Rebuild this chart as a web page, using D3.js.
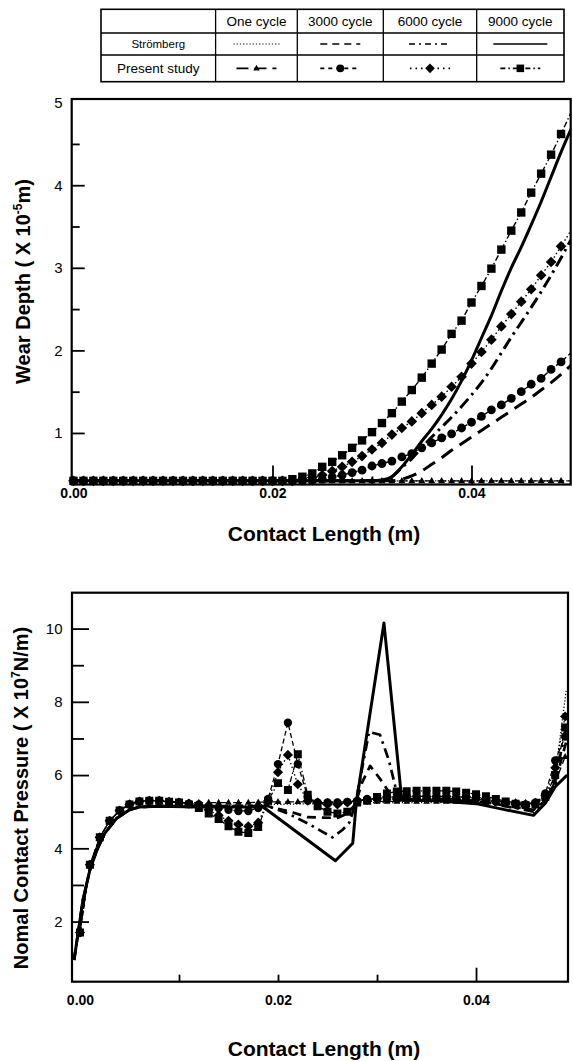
<!DOCTYPE html>
<html><head><meta charset="utf-8">
<script src="https://cdn.jsdelivr.net/npm/d3@7"></script>
<style>body{margin:0;background:#fff}svg{display:block}</style>
</head><body>
<svg id="c" width="573" height="1061"></svg>
<script>
// ---------------- DATA ----------------
const cycles = ["One cycle", "3000 cycle", "6000 cycle", "9000 cycle"];
const rowLabels = ["Strömberg", "Present study"];

// sample positions along the contact (m)
const sampleX = [0.000,0.001,0.002,0.003,0.004,0.005,0.006,0.007,0.008,0.009,
  0.010,0.011,0.012,0.013,0.014,0.015,0.016,0.017,0.018,0.019,
  0.020,0.021,0.022,0.023,0.024,0.025,0.026,0.027,0.028,0.029,
  0.030,0.031,0.032,0.033,0.034,0.035,0.036,0.037,0.038,0.039,
  0.040,0.041,0.042,0.043,0.044,0.045,0.046,0.047,0.048,0.049,0.050];

// Wear depth (x 1e-5 m) — top chart
const wearTickLabels = [1, 2, 3, 4, 5];
const wearMajorTicks = [1, 2, 3, 4];
const wearMinorTicks = [1.5, 2.5, 3.5, 4.5];
const lenLabelTicks = [0.00, 0.02, 0.04];
const lenMajorTicks = [0.02, 0.04];
const lenMinorTicks = [0.01, 0.03];

const wearOneP = [0.42,0.42,0.42,0.42,0.42,0.42,0.42,0.42,0.42,0.42,
  0.42,0.42,0.42,0.42,0.42,0.42,0.42,0.42,0.42,0.42,
  0.42,0.42,0.42,0.42,0.42,0.42,0.42,0.42,0.42,0.42,
  0.42,0.42,0.42,0.42,0.42,0.42,0.42,0.42,0.42,0.42,
  0.42,0.42,0.42,0.42,0.42,0.42,0.42,0.42,0.42,0.42,0.42];
const wear3000P = [0.42,0.42,0.42,0.42,0.42,0.42,0.42,0.42,0.42,0.42,
  0.42,0.42,0.42,0.42,0.42,0.42,0.42,0.42,0.42,0.42,
  0.42,0.42,0.42,0.42,0.42,0.44,0.47,0.49,0.52,0.55,
  0.60,0.63,0.66,0.71,0.75,0.82,0.88,0.94,0.99,1.06,
  1.13,1.20,1.28,1.34,1.42,1.50,1.59,1.66,1.77,1.86,1.97];
const wear6000P = [0.42,0.42,0.42,0.42,0.42,0.42,0.42,0.42,0.42,0.42,
  0.42,0.42,0.42,0.42,0.42,0.42,0.42,0.42,0.42,0.42,
  0.42,0.42,0.42,0.44,0.46,0.49,0.54,0.59,0.65,0.72,
  0.80,0.88,0.98,1.06,1.14,1.24,1.34,1.44,1.56,1.68,
  1.84,1.98,2.13,2.29,2.44,2.59,2.74,2.91,3.07,3.26,3.45];
const wear9000P = [0.42,0.42,0.42,0.42,0.42,0.42,0.42,0.42,0.42,0.42,
  0.42,0.42,0.42,0.42,0.42,0.42,0.42,0.42,0.42,0.42,
  0.42,0.42,0.44,0.47,0.51,0.59,0.65,0.73,0.82,0.91,
  1.01,1.12,1.24,1.38,1.52,1.67,1.84,2.01,2.20,2.36,
  2.58,2.78,2.99,3.22,3.45,3.67,3.91,4.14,4.37,4.62,4.88];

const wearOneS = [0.42,0.42,0.42,0.42,0.42,0.42,0.42,0.42,0.42,0.42,
  0.42,0.42,0.42,0.42,0.42,0.42,0.42,0.42,0.42,0.42,
  0.42,0.42,0.42,0.42,0.42,0.42,0.42,0.42,0.42,0.42,
  0.42,0.42,0.42,0.42,0.42,0.42,0.42,0.42,0.42,0.42,
  0.42,0.42,0.42,0.42,0.42,0.42,0.42,0.42,0.42,0.42,0.42];
const wear3000S = [0.42,0.42,0.42,0.42,0.42,0.42,0.42,0.42,0.42,0.42,
  0.42,0.42,0.42,0.42,0.42,0.42,0.42,0.42,0.42,0.42,
  0.42,0.42,0.42,0.42,0.42,0.42,0.42,0.42,0.42,0.42,
  0.42,0.42,0.42,0.44,0.48,0.54,0.62,0.70,0.79,0.87,
  0.95,1.03,1.11,1.19,1.27,1.35,1.43,1.52,1.61,1.71,1.82];
const wear6000S = [0.42,0.42,0.42,0.42,0.42,0.42,0.42,0.42,0.42,0.42,
  0.42,0.42,0.42,0.42,0.42,0.42,0.42,0.42,0.42,0.42,
  0.42,0.42,0.42,0.42,0.42,0.42,0.42,0.42,0.42,0.42,
  0.42,0.42,0.47,0.58,0.69,0.82,0.95,1.07,1.19,1.32,
  1.46,1.61,1.78,1.97,2.16,2.34,2.52,2.71,2.91,3.12,3.34];
const wear9000S = [0.42,0.42,0.42,0.42,0.42,0.42,0.42,0.42,0.42,0.42,
  0.42,0.42,0.42,0.42,0.42,0.42,0.42,0.42,0.42,0.42,
  0.42,0.42,0.42,0.42,0.42,0.42,0.42,0.42,0.42,0.42,
  0.42,0.43,0.47,0.59,0.74,0.90,1.05,1.22,1.41,1.63,
  1.88,2.15,2.42,2.72,3.00,3.25,3.52,3.80,4.10,4.40,4.68];

// Normal contact pressure (x 1e7 N/m) — bottom chart, present study (k = 0..49)
const pressTickLabels = [2, 4, 6, 8, 10];
const pressMinorTicks = [3, 5, 7, 9];
const pressLenMajor = [0.04];
const pressLenMinor = [0.01, 0.02, 0.03];

const pressOneP = [1.7,3.55,4.3,4.75,5.03,5.2,5.28,5.3,5.3,5.27,
  5.25,5.25,5.25,5.25,5.25,5.25,5.25,5.25,5.26,5.27,
  5.27,5.27,5.27,5.27,5.27,5.27,5.27,5.27,5.28,5.28,
  5.28,5.28,5.28,5.28,5.28,5.28,5.28,5.28,5.28,5.28,
  5.28,5.28,5.28,5.27,5.27,5.25,5.28,5.4,5.8,6.5];
const press3000P = [1.7,3.55,4.3,4.75,5.03,5.2,5.28,5.3,5.3,5.27,
  5.25,5.22,5.2,5.15,5.1,5.05,5.02,5.02,5.1,5.35,
  6.3,7.43,6.3,5.4,5.25,5.25,5.25,5.27,5.3,5.35,
  5.35,5.35,5.35,5.36,5.36,5.36,5.36,5.36,5.35,5.35,
  5.35,5.3,5.28,5.25,5.22,5.2,5.25,5.5,6.4,7.05];
const press6000P = [1.7,3.55,4.3,4.75,5.03,5.2,5.28,5.3,5.3,5.27,
  5.25,5.22,5.15,5.05,4.9,4.75,4.65,4.6,4.7,5.3,
  6.08,6.55,5.75,5.3,5.25,5.2,5.2,5.25,5.3,5.32,
  5.35,5.4,5.4,5.42,5.42,5.42,5.42,5.42,5.4,5.4,
  5.38,5.35,5.3,5.25,5.2,5.15,5.2,5.45,6.2,7.6];
const press9000P = [1.7,3.55,4.3,4.75,5.03,5.2,5.28,5.3,5.3,5.27,
  5.25,5.2,5.1,4.95,4.8,4.6,4.45,4.42,4.58,5.3,
  5.78,5.59,6.57,5.46,5.15,5.0,4.95,5.0,5.25,5.3,
  5.4,5.5,5.55,5.56,5.57,5.57,5.57,5.57,5.55,5.52,
  5.48,5.42,5.35,5.28,5.22,5.18,5.2,5.4,6.0,7.3];

// Strömberg curves (x in m, pressure)
const pressOneSX = [-0.0006,-0.0001,0.0003,0.001,0.0017,0.0025,0.0037,0.005,0.006,0.008,0.012,0.020,0.030,0.040,0.045,0.047,0.048,0.0491];
const pressOneSY = [0.95,1.86,2.59,3.41,3.95,4.41,4.82,5.05,5.13,5.15,5.15,5.2,5.25,5.25,5.2,5.4,6.0,8.3];
const press3000SX = [-0.0006,-0.0001,0.0003,0.001,0.0017,0.0025,0.0037,0.005,0.006,0.008,0.012,0.019,0.0215,0.023,0.026,0.027,0.0278,0.0285,0.0293,0.0303,0.0318,0.036,0.040,0.044,0.0458,0.047,0.048,0.0492];
const press3000SY = [0.95,1.86,2.59,3.41,3.95,4.41,4.82,5.05,5.13,5.15,5.15,5.15,4.98,4.85,4.83,4.95,5.2,5.8,6.25,5.9,5.3,5.35,5.3,5.12,5.05,5.3,5.8,7.0];
const press6000SX = [-0.0006,-0.0001,0.0003,0.001,0.0017,0.0025,0.0037,0.005,0.006,0.008,0.012,0.019,0.021,0.023,0.0245,0.0255,0.0265,0.0272,0.0278,0.0292,0.0303,0.0312,0.0322,0.036,0.040,0.044,0.0458,0.047,0.048,0.0492];
const press6000SY = [0.95,1.86,2.59,3.41,3.95,4.41,4.82,5.05,5.13,5.15,5.15,5.15,4.95,4.68,4.45,4.3,4.5,4.7,5.2,7.18,7.1,6.4,5.3,5.32,5.28,5.1,5.0,5.3,5.9,7.4];
const press9000SX = [-0.0006,-0.0001,0.0003,0.001,0.0017,0.0025,0.0037,0.005,0.006,0.008,0.012,0.0185,0.0258,0.02755,0.0279,0.0307,0.0325,0.036,0.040,0.043,0.0458,0.047,0.048,0.0492];
const press9000SY = [0.95,1.86,2.59,3.41,3.95,4.41,4.82,5.05,5.13,5.15,5.13,5.13,3.66,4.14,5.23,10.15,5.32,5.3,5.22,5.05,4.9,5.23,5.68,6.0];

// ---------------- DRAWING ----------------
const FONT = "'Liberation Sans', Arial, Helvetica, sans-serif";
const svg = d3.select("#c");

function markerPath(type, s) {
  if (type === "square") return `M${-s},${-s}h${2*s}v${2*s}h${-2*s}Z`;
  if (type === "diamond") { const d = s*1.3; return `M0,${-d}L${d},0L0,${d}L${-d},0Z`; }
  if (type === "circle") return `M${s},0A${s},${s} 0 1,1 ${-s},0A${s},${s} 0 1,1 ${s},0Z`;
  if (type === "tri") { const w = s*1.9, h = s*1.7; return `M0,${-h*0.62}L${w/2},${h*0.38}L${-w/2},${h*0.38}Z`; }
}

const presentStyle = [
  {type: "tri", dash: "9,4", s: 3.7},
  {type: "circle", dash: "5,3", s: 4.4},
  {type: "diamond", dash: "1.5,2.5", s: 4.1},
  {type: "square", dash: "6,2.5,1.5,2.5", s: 4.2}
];
const stromStyle = [
  {dash: "1.2,2", w: 1.3},
  {dash: "14,8", w: 3},
  {dash: "12,5,2.5,5", w: 3},
  {dash: null, w: 3}
];

// ----- Legend table -----
(function legend() {
  const L = 101, R = 564, T = 9.3, B = 81.7;
  const rowsY = [T, 33, 55, B];
  const colsX = [L, 215.6, 297.3, 383.3, 476.7, R];
  const g = svg.append("g").attr("font-family", FONT).attr("fill", "#000");
  g.append("rect").attr("x", L).attr("y", T).attr("width", R - L).attr("height", B - T)
    .attr("fill", "none").attr("stroke", "#000").attr("stroke-width", 1.6);
  rowsY.slice(1, 3).forEach(yy => g.append("line").attr("x1", L).attr("x2", R).attr("y1", yy).attr("y2", yy)
    .attr("stroke", "#000").attr("stroke-width", 1.3));
  colsX.slice(1, 5).forEach(xx => g.append("line").attr("x1", xx).attr("x2", xx).attr("y1", T).attr("y2", B)
    .attr("stroke", "#000").attr("stroke-width", 1.3));
  const cx = i => (colsX[i] + colsX[i + 1]) / 2;
  const cy = i => (rowsY[i] + rowsY[i + 1]) / 2;
  cycles.forEach((c, i) => g.append("text").attr("x", cx(i + 1)).attr("y", cy(0) + 5)
    .attr("text-anchor", "middle").attr("font-size", 13.5).text(c));
  g.append("text").attr("x", cx(0)).attr("y", cy(1) + 4).attr("text-anchor", "middle")
    .attr("font-size", 11.5).text(rowLabels[0]);
  g.append("text").attr("x", cx(0)).attr("y", cy(2) + 5).attr("text-anchor", "middle")
    .attr("font-size", 13.5).text(rowLabels[1]);
  const halfW = [23, 20, 21, 27];
  stromStyle.forEach((st, i) => {
    const x0 = cx(i + 1);
    g.append("line").attr("x1", x0 - halfW[i]).attr("x2", x0 + halfW[i]).attr("y1", cy(1)).attr("y2", cy(1))
      .attr("stroke", "#000").attr("stroke-width", i === 0 ? 1.1 : 1.6)
      .attr("stroke-dasharray", i === 1 ? "7,5" : (i === 2 ? "6,4,2,4" : st.dash));
  });
  presentStyle.forEach((st, i) => {
    const x0 = cx(i + 1);
    g.append("line").attr("x1", x0 - 20).attr("x2", x0 + 20).attr("y1", cy(2)).attr("y2", cy(2))
      .attr("stroke", "#000").attr("stroke-width", 1.6)
      .attr("stroke-dasharray", i === 0 ? "12,6" : (i === 1 ? "4,4" : (i === 2 ? "1.5,4" : "5,3,1.5,3")));
    g.append("path").attr("transform", `translate(${x0},${cy(2)})`).attr("d", markerPath(st.type, st.s * 0.9));
  });
})();

// ----- Generic plot -----
function plot(cfg) {
  const {box, id} = cfg;
  const g = svg.append("g");
  g.append("clipPath").attr("id", id).append("rect")
    .attr("x", box.L).attr("y", box.T).attr("width", box.R - box.L).attr("height", box.B - box.T);
  const inner = g.append("g").attr("clip-path", `url(#${id})`);
  return {g, inner};
}

function styleAxis(sel, size, weight) {
  sel.attr("font-family", FONT).attr("font-size", size).attr("font-weight", weight);
  sel.selectAll(".domain").remove();
  sel.selectAll("line").attr("stroke", "#000").attr("stroke-width", 1.8);
  sel.selectAll("text").attr("fill", "#000");
}

// ===== TOP CHART =====
(function topChart() {
  const box = {L: 71.7, R: 570.7, T: 99, B: 484.5};
  const x = d3.scaleLinear().domain([-0.00018, 0.04997]).range([box.L, box.R]);
  const y = d3.scaleLinear().domain([0.376, 5.044]).range([box.B, box.T]);
  const {g, inner} = plot({box, id: "clipTop"});

  const stromSeries = [wearOneS, wear3000S, wear6000S, wear9000S];
  const presSeries = [wearOneP, wear3000P, wear6000P, wear9000P];
  const lineS = d3.line().x((d, i) => x(sampleX[i])).y(d => y(d)).curve(d3.curveMonotoneX);
  const lineP = d3.line().x((d, i) => x(sampleX[i])).y(d => y(d));

  stromSeries.forEach((s, i) => inner.append("path").attr("d", lineS(s)).attr("fill", "none")
    .attr("stroke", "#000").attr("stroke-width", stromStyle[i].w)
    .attr("stroke-dasharray", stromStyle[i].dash));
  presSeries.forEach((s, i) => inner.append("path").attr("d", lineP(s)).attr("fill", "none")
    .attr("stroke", "#000").attr("stroke-width", 1.4).attr("stroke-dasharray", presentStyle[i].dash));
  presSeries.forEach((s, i) => {
    const pts = s.map((v, k) => ({x: sampleX[k], v})).filter(p => p.x <= x.domain()[1]);
    g.append("g").selectAll("path").data(pts).join("path")
      .attr("transform", p => `translate(${x(p.x)},${y(p.v)})`)
      .attr("d", markerPath(presentStyle[i].type, presentStyle[i].s));
  });

  // axes
  g.append("g").attr("transform", `translate(${box.L},0)`)
    .call(d3.axisLeft(y).tickValues(wearMajorTicks).tickSizeInner(-13).tickSizeOuter(0).tickFormat(""))
    .call(s => styleAxis(s, 15, "normal"));
  g.append("g").attr("transform", `translate(${box.L},0)`)
    .call(d3.axisLeft(y).tickValues(wearMinorTicks).tickSizeInner(-8).tickSizeOuter(0).tickFormat(""))
    .call(s => styleAxis(s, 15, "normal"));
  g.append("g").attr("transform", `translate(${box.L},0)`)
    .call(d3.axisLeft(y).tickValues(wearTickLabels).tickSize(0).tickPadding(9).tickFormat(d3.format("d")))
    .call(s => styleAxis(s, 15, "normal"));
  g.append("g").attr("transform", `translate(0,${box.B})`)
    .call(d3.axisBottom(x).tickValues(lenMajorTicks).tickSizeInner(-19).tickSizeOuter(0).tickFormat(""))
    .call(s => styleAxis(s, 14, "bold"));
  g.append("g").attr("transform", `translate(0,${box.B})`)
    .call(d3.axisBottom(x).tickValues(lenMinorTicks).tickSizeInner(-8).tickSizeOuter(0).tickFormat(""))
    .call(s => styleAxis(s, 14, "bold"));
  g.append("g").attr("transform", `translate(0,${box.B})`)
    .call(d3.axisBottom(x).tickValues(lenLabelTicks).tickSize(0).tickPadding(4).tickFormat(d3.format(".2f")))
    .call(s => styleAxis(s, 14, "bold"));

  g.append("rect").attr("x", box.L).attr("y", box.T).attr("width", box.R - box.L).attr("height", box.B - box.T)
    .attr("fill", "none").attr("stroke", "#000").attr("stroke-width", 2.2);

  g.append("text").attr("x", 324).attr("y", 541).attr("text-anchor", "middle")
    .attr("font-family", FONT).attr("font-size", 21).attr("font-weight", "bold").text("Contact Length (m)");
  const t = g.append("text").attr("transform", "translate(30,281.5) rotate(-90)").attr("text-anchor", "middle")
    .attr("font-family", FONT).attr("font-size", 20).attr("font-weight", "bold");
  t.append("tspan").text("Wear Depth ( X 10");
  t.append("tspan").attr("font-size", 12).attr("dy", -8).text("-5");
  t.append("tspan").attr("dy", 8).text("m)");
})();

// ===== BOTTOM CHART =====
(function bottomChart() {
  const box = {L: 72, R: 568, T: 592.7, B: 981.7};
  const x = d3.scaleLinear().domain([-0.000808, 0.04929]).range([box.L, box.R]);
  const y = d3.scaleLinear().domain([0.358, 10.98]).range([box.B, box.T]);
  const {g, inner} = plot({box, id: "clipBot"});

  const presSeries = [pressOneP, press3000P, press6000P, press9000P];
  const lineP = d3.line().x((d, i) => x(sampleX[i])).y(d => y(d));
  presSeries.forEach((s, i) => inner.append("path").attr("d", lineP(s)).attr("fill", "none")
    .attr("stroke", "#000").attr("stroke-width", 1.3).attr("stroke-dasharray", presentStyle[i].dash));
  presSeries.forEach((s, i) => {
    const pts = s.map((v, k) => ({x: sampleX[k], v}));
    inner.append("g").selectAll("path").data(pts).join("path")
      .attr("transform", p => `translate(${x(p.x)},${y(p.v)})`)
      .attr("d", markerPath(presentStyle[i].type, presentStyle[i].s * 0.95));
  });

  const strom = [[pressOneSX, pressOneSY], [press3000SX, press3000SY], [press6000SX, press6000SY], [press9000SX, press9000SY]];
  strom.forEach(([xs, ys], i) => {
    const line = d3.line().x((d, k) => x(xs[k])).y(d => y(d));
    inner.append("path").attr("d", line(ys)).attr("fill", "none").attr("stroke", "#000")
      .attr("stroke-width", i === 0 ? 1.3 : (i === 3 ? 3 : 2.7)).attr("stroke-linejoin", "round")
      .attr("stroke-dasharray", i === 1 ? "9,6" : (i === 2 ? "10,5,2.5,5" : stromStyle[i].dash));
  });

  g.append("g").attr("transform", `translate(${box.L},0)`)
    .call(d3.axisLeft(y).tickValues(pressTickLabels).tickSizeInner(-17).tickSizeOuter(0).tickPadding(9.5).tickFormat(d3.format("d")))
    .call(s => styleAxis(s, 15, "normal"));
  g.append("g").attr("transform", `translate(${box.L},0)`)
    .call(d3.axisLeft(y).tickValues(pressMinorTicks).tickSizeInner(-12).tickSizeOuter(0).tickFormat(""))
    .call(s => styleAxis(s, 15, "normal"));
  g.append("g").attr("transform", `translate(0,${box.B})`)
    .call(d3.axisBottom(x).tickValues(pressLenMajor).tickSizeInner(-14).tickSizeOuter(0).tickFormat(""))
    .call(s => styleAxis(s, 14, "bold"));
  g.append("g").attr("transform", `translate(0,${box.B})`)
    .call(d3.axisBottom(x).tickValues(pressLenMinor).tickSizeInner(-7).tickSizeOuter(0).tickFormat(""))
    .call(s => styleAxis(s, 14, "bold"));
  g.append("g").attr("transform", `translate(0,${box.B})`)
    .call(d3.axisBottom(x).tickValues(lenLabelTicks).tickSize(0).tickPadding(13).tickFormat(d3.format(".2f")))
    .call(s => styleAxis(s, 14, "bold"));

  g.append("rect").attr("x", box.L).attr("y", box.T).attr("width", box.R - box.L).attr("height", box.B - box.T)
    .attr("fill", "none").attr("stroke", "#000").attr("stroke-width", 2.2);

  g.append("text").attr("x", 324).attr("y", 1056).attr("text-anchor", "middle")
    .attr("font-family", FONT).attr("font-size", 21).attr("font-weight", "bold").text("Contact Length (m)");
  const t = g.append("text").attr("transform", "translate(28,798) rotate(-90)").attr("text-anchor", "middle")
    .attr("font-family", FONT).attr("font-size", 20).attr("font-weight", "bold");
  t.append("tspan").text("Nomal Contact Pressure ( X 10");
  t.append("tspan").attr("font-size", 12).attr("dy", -8).text("7");
  t.append("tspan").attr("dy", 8).text("N/m)");
})();
</script>
</body></html>
